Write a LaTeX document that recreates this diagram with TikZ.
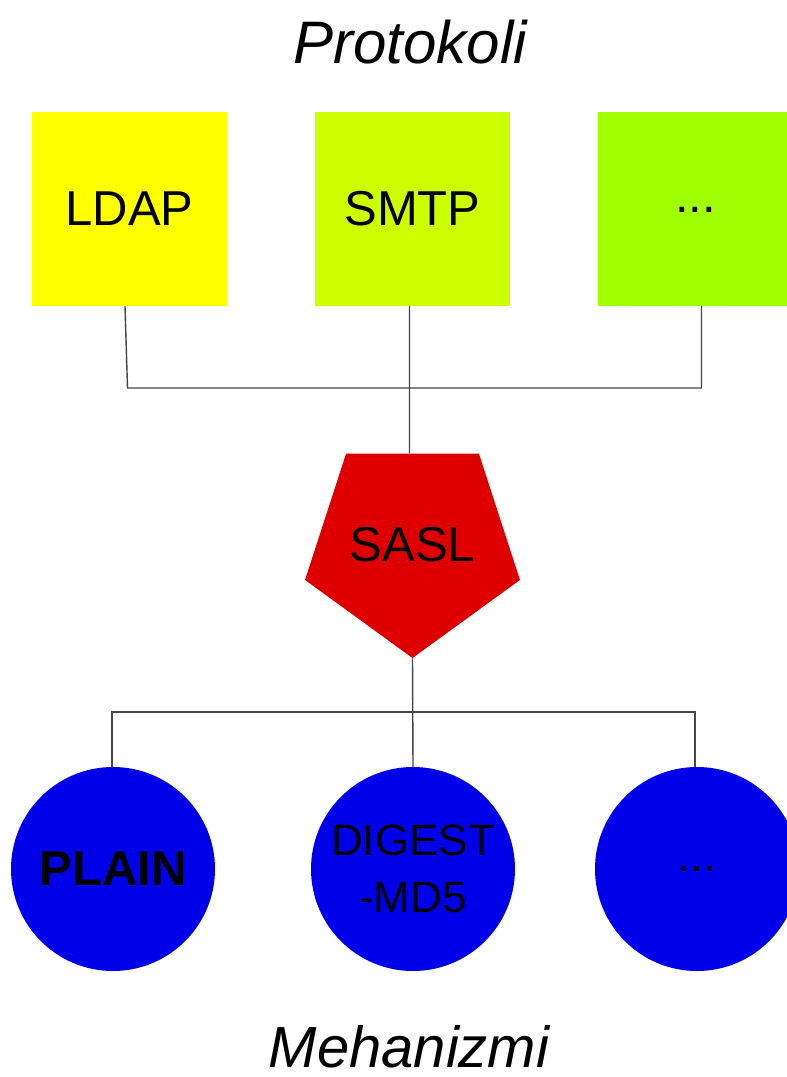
\documentclass[tikz,border=0pt]{standalone}
\usepackage{fontspec}
\setmainfont{Liberation Sans}
\usetikzlibrary{shapes.geometric}
\definecolor{cLdap}{RGB}{255,255,0}
\definecolor{cSmtp}{RGB}{204,255,0}
\definecolor{cOther}{RGB}{160,255,0}
\definecolor{cRed}{RGB}{222,0,0}
\definecolor{cBlue}{RGB}{0,0,232}
\definecolor{lineGray}{RGB}{70,70,70}
\begin{document}
\begin{tikzpicture}[x=1pt,y=-1pt,
  protobox/.style={rectangle, minimum width=195pt, minimum height=194pt, inner sep=0pt, font=\fontsize{49}{58}\selectfont},
  mechcircle/.style={circle, fill=cBlue, minimum size=204pt, inner sep=0pt, align=center},
  conn/.style={draw=lineGray, line width=1.4pt},
  title/.style={font=\fontsize{60}{70}\selectfont\itshape, anchor=base}]
\useasboundingbox (0,0) rectangle (787,1077);
\clip (0,0) rectangle (787,1077);
\fill[white] (0,0) rectangle (787,1077);

\node[title] (tp) at (410,63) {Protokoli};
\node[title, font=\fontsize{58}{68}\selectfont\itshape] (tm) at (409,1067) {Mehanizmi};

\node[protobox, fill=cLdap] (ldap) at (129.5,209) {LDAP};
\node[protobox, fill=cSmtp] (smtp) at (412.5,209) {SMTP};
\node[protobox, fill=cOther] (other) at (695.5,209) {\smash{\raisebox{-3.5pt}{...}}};

\node[regular polygon, regular polygon sides=5, shape border rotate=180,
      minimum size=226pt, inner sep=0pt, fill=cRed,
      font=\fontsize{49}{58}\selectfont] (sasl) at (412.5,545) {SASL};

\node[mechcircle, font=\fontsize{49}{58}\selectfont\bfseries] (plain) at (113,869) {PLAIN};
\node[mechcircle, font=\fontsize{44}{57}\selectfont] (digest) at (413,869) {DIGEST\\-MD5};
\node[mechcircle, font=\fontsize{46}{57}\selectfont] (dots) at (697,869) {\smash{\raisebox{-2.5pt}{...}}};

\coordinate (ht) at (410,388);
\coordinate (hb) at (412.5,712);

\draw[conn] ([xshift=-4.5pt]ldap.south) -- ([xshift=-2pt]ldap.south |- ht) -- ([xshift=6pt]other.south |- ht) -- ([xshift=6pt]other.south);
\draw[conn] ([xshift=-3pt]smtp.south) -- ([xshift=-3pt]sasl.north);
\draw[conn] (sasl.south) -- (digest.north);
\draw[conn] ([xshift=-1pt]plain.north) -- ([xshift=-1pt]plain.north |- hb) -- ([xshift=-2pt]dots.north |- hb) -- ([xshift=-2pt]dots.north);
\end{tikzpicture}
\end{document}
